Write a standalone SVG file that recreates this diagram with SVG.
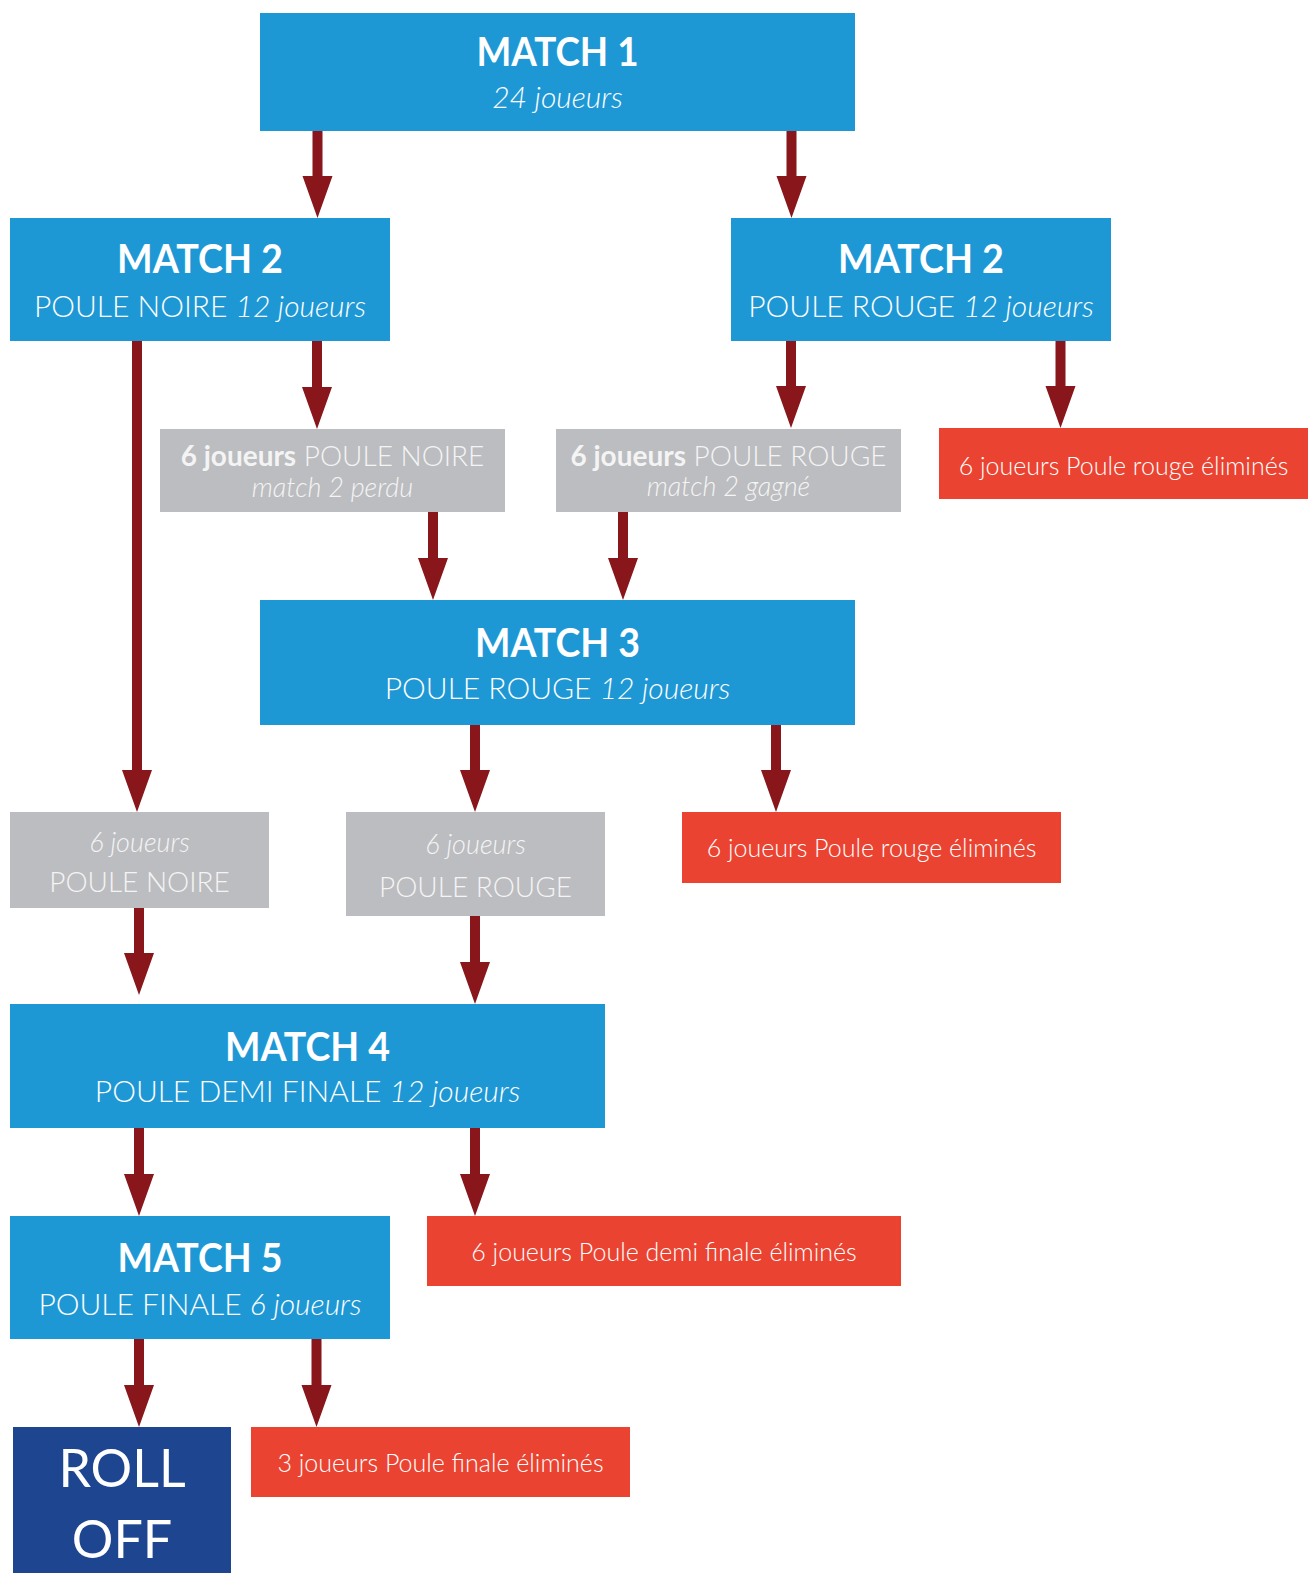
<svg xmlns="http://www.w3.org/2000/svg" width="1308" height="1573" viewBox="0 0 1308 1573">
<style>
.blue{fill:#1E98D5}
.gray{fill:#BCBDC0}
.red{fill:#EB4331}
.navy{fill:#1E4690}
.arrow{fill:#88161A}
text{font-family:Lato,"Open Sans","Liberation Sans",sans-serif;fill:#FFFFFF;text-anchor:middle}
.title{font-size:41px;font-weight:700}
.sub{font-size:30px;font-weight:300}
.it{font-style:italic;font-weight:300}
.b{font-weight:700}
.gt{font-size:28px;font-weight:300;fill:#F4F4F4}
.gt2{font-size:27px;font-weight:300;font-style:italic;fill:#F4F4F4}
.rt{font-size:25px;font-weight:300}
.roll{font-size:52px;font-weight:400}
</style>
<rect width="1308" height="1573" fill="#FFFFFF"/>
<g id="connectors">
<path class="arrow" d="M312.5,131V176H302.5L317.5,218L332.5,176H322.5V131Z"/>
<path class="arrow" d="M786.5,131V176H776.5L791.5,218L806.5,176H796.5V131Z"/>
<path class="arrow" d="M132,341V770H122L137,812L152,770H142V341Z"/>
<path class="arrow" d="M312,341V387H302L317,429L332,387H322V341Z"/>
<path class="arrow" d="M786,341V386H776L791,428L806,386H796V341Z"/>
<path class="arrow" d="M1055.5,341V386H1045.5L1060.5,428L1075.5,386H1065.5V341Z"/>
<path class="arrow" d="M428,512V558H418L433,600L448,558H438V512Z"/>
<path class="arrow" d="M618,512V558H608L623,600L638,558H628V512Z"/>
<path class="arrow" d="M470,725V770H460L475,812L490,770H480V725Z"/>
<path class="arrow" d="M771,725V770H761L776,812L791,770H781V725Z"/>
<path class="arrow" d="M134,908V953H124L139,995L154,953H144V908Z"/>
<path class="arrow" d="M470,916V962H460L475,1004L490,962H480V916Z"/>
<path class="arrow" d="M134,1128V1174H124L139,1216L154,1174H144V1128Z"/>
<path class="arrow" d="M470,1128V1174H460L475,1216L490,1174H480V1128Z"/>
<path class="arrow" d="M134,1339V1385H124L139,1427L154,1385H144V1339Z"/>
<path class="arrow" d="M311.5,1339V1385H301.5L316.5,1427L331.5,1385H321.5V1339Z"/>
</g>
<g id="match1">
<rect class="blue" x="260" y="13" width="595" height="118"/>
<text class="title" x="557.5" y="66" textLength="162" lengthAdjust="spacingAndGlyphs">MATCH 1</text>
<text class="sub it" x="557.5" y="108">24 joueurs</text>
</g>
<g id="match2-noire">
<rect class="blue" x="10" y="218" width="380" height="123"/>
<text class="title" x="200" y="273" textLength="166" lengthAdjust="spacingAndGlyphs">MATCH 2</text>
<text class="sub" x="200" y="316.5">POULE NOIRE <tspan class="it">12 joueurs</tspan></text>
</g>
<g id="match2-rouge">
<rect class="blue" x="731" y="218" width="380" height="123"/>
<text class="title" x="921" y="273" textLength="166" lengthAdjust="spacingAndGlyphs">MATCH 2</text>
<text class="sub" x="921" y="316.5">POULE ROUGE <tspan class="it">12 joueurs</tspan></text>
</g>
<g id="gray-noire-perdu">
<rect class="gray" x="160" y="429" width="345" height="83"/>
<text class="gt" x="332.5" y="465.5"><tspan class="b">6 joueurs</tspan> POULE NOIRE</text>
<text class="gt2" x="332.5" y="496.5">match 2 perdu</text>
</g>
<g id="gray-rouge-gagne">
<rect class="gray" x="556" y="429" width="345" height="83"/>
<text class="gt" x="728.5" y="465.5"><tspan class="b">6 joueurs</tspan> POULE ROUGE</text>
<text class="gt2" x="728.5" y="496">match 2 gagné</text>
</g>
<g id="red-elim-1">
<rect class="red" x="939" y="428" width="369" height="71"/>
<text class="rt" x="1123.5" y="475">6 joueurs Poule rouge éliminés</text>
</g>
<g id="match3">
<rect class="blue" x="260" y="600" width="595" height="125"/>
<text class="title" x="557.5" y="656.5" textLength="165" lengthAdjust="spacingAndGlyphs">MATCH 3</text>
<text class="sub" x="557.5" y="699">POULE ROUGE <tspan class="it">12 joueurs</tspan></text>
</g>
<g id="gray-noire">
<rect class="gray" x="10" y="812" width="259" height="96"/>
<text class="gt2" x="139.5" y="851.5" font-size="29">6 joueurs</text>
<text class="gt" x="139.5" y="891.5" font-size="29">POULE NOIRE</text>
</g>
<g id="gray-rouge">
<rect class="gray" x="346" y="812" width="259" height="104"/>
<text class="gt2" x="475.5" y="854" font-size="29">6 joueurs</text>
<text class="gt" x="475.5" y="897" font-size="29">POULE ROUGE</text>
</g>
<g id="red-elim-2">
<rect class="red" x="682" y="812" width="379" height="71"/>
<text class="rt" x="871.5" y="856.5">6 joueurs Poule rouge éliminés</text>
</g>
<g id="match4">
<rect class="blue" x="10" y="1004" width="595" height="124"/>
<text class="title" x="307.5" y="1060.5" textLength="165" lengthAdjust="spacingAndGlyphs">MATCH 4</text>
<text class="sub" x="307.5" y="1102">POULE DEMI FINALE <tspan class="it">12 joueurs</tspan></text>
</g>
<g id="match5">
<rect class="blue" x="10" y="1216" width="380" height="123"/>
<text class="title" x="200" y="1271.5" textLength="165" lengthAdjust="spacingAndGlyphs">MATCH 5</text>
<text class="sub" x="200" y="1315">POULE FINALE <tspan class="it">6 joueurs</tspan></text>
</g>
<g id="red-elim-demi">
<rect class="red" x="427" y="1216" width="474" height="70"/>
<text class="rt" x="664" y="1261">6 joueurs Poule demi finale éliminés</text>
</g>
<g id="roll-off">
<rect class="navy" x="13" y="1427" width="218" height="146"/>
<text class="roll" x="122" y="1486.5">ROLL</text>
<text class="roll" x="122" y="1558">OFF</text>
</g>
<g id="red-elim-finale">
<rect class="red" x="251" y="1427" width="379" height="70"/>
<text class="rt" x="440.5" y="1471.5">3 joueurs Poule finale éliminés</text>
</g>
</svg>
